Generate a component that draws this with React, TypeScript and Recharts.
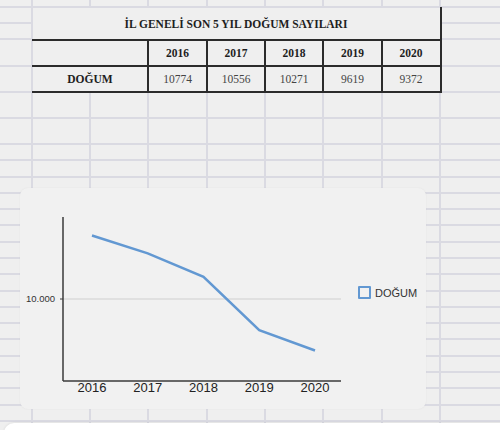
import React from 'react';
import { LineChart, Line, XAxis, YAxis, CartesianGrid, Legend } from 'recharts';

const years = ['2016', '2017', '2018', '2019', '2020'];
const births = [10774, 10556, 10271, 9619, 9372];
const yTicks = [10000];
const yDomain = [9000, 11000];
const seriesName = 'DOĞUM';
const tableTitle = 'İL GENELİ SON 5 YIL DOĞUM SAYILARI';

const data = years.map((year, i) => ({ year, value: births[i] }));

// spreadsheet grid
const colLines = [32, 90, 148, 207, 265, 323, 382, 440];
const rowLines = [7, 23, 39, 66, 92, 118, 144, 160, 177, 193, 209, 225, 242, 258, 274, 291, 307, 323, 339, 356, 372, 388, 405, 421];
const gridColor = '#dadae2';
const pageBg = '#efefef';
const ink = '#2b2b2b';
const lineColor = '#6298d2';

// table geometry
const tableCols = [32, 148, 207, 265, 323, 382, 440];
const serif = '"Liberation Serif", "Times New Roman", serif';
const sans = '"Liberation Sans", Arial, Helvetica, sans-serif';

const fmt = (v: number) => String(v).replace(/\B(?=(\d{3})+(?!\d))/g, '.');

function Cell({ x1, x2, y1, y2, text, bold }: { x1: number; x2: number; y1: number; y2: number; text: string; bold?: boolean }) {
  return (
    <div
      style={{
        position: 'absolute',
        left: x1,
        top: y1,
        width: x2 - x1,
        height: y2 - y1,
        display: 'flex',
        alignItems: 'center',
        justifyContent: 'center',
        fontFamily: serif,
        fontSize: 11.5,
        fontWeight: bold ? 700 : 400,
        color: bold ? '#1e1e1e' : '#444',
      }}
    >
      {text}
    </div>
  );
}

function LegendBox() {
  return (
    <div style={{ display: 'flex', alignItems: 'center', fontFamily: sans, fontSize: 11, color: '#333' }}>
      <span style={{ width: 9, height: 9, border: `2px solid ${lineColor}`, borderRadius: 1, marginRight: 4 }} />
      <span>{seriesName}</span>
    </div>
  );
}

export default function App() {
  return (
    <div style={{ position: 'absolute', left: 0, top: 0, width: 500, height: 430, overflow: 'hidden', background: pageBg }}>
      {colLines.map((x) => (
        <div key={'c' + x} style={{ position: 'absolute', left: x - 1, top: 0, width: 2, height: 430, background: gridColor }} />
      ))}
      {rowLines.map((y) => (
        <div key={'r' + y} style={{ position: 'absolute', left: 0, top: y - 1, width: 500, height: 2, background: gridColor }} />
      ))}

      {/* table */}
      <div style={{ position: 'absolute', left: 33, top: 8, width: 407, height: 84, background: pageBg }} />
      <Cell x1={32} x2={440} y1={8} y2={40} text={tableTitle} bold />
      <Cell x1={32} x2={148} y1={66} y2={92} text={seriesName} bold />
      {years.map((y, i) => (
        <Cell key={y} x1={tableCols[i + 1]} x2={tableCols[i + 2]} y1={40} y2={66} text={y} bold />
      ))}
      {births.map((v, i) => (
        <Cell key={i} x1={tableCols[i + 1]} x2={tableCols[i + 2]} y1={66} y2={92} text={String(v)} />
      ))}
      {[39.5, 65.5, 91.5].map((y) => (
        <div key={'h' + y} style={{ position: 'absolute', left: 32, top: y - 1, width: 410, height: 2, background: ink }} />
      ))}
      {tableCols.slice(1, -1).map((x) => (
        <div key={'v' + x} style={{ position: 'absolute', left: x - 1, top: 40, width: 2, height: 52, background: ink }} />
      ))}
      <div style={{ position: 'absolute', left: 440, top: 7, width: 2, height: 86, background: ink }} />

      {/* chart card */}
      <div
        style={{
          position: 'absolute',
          left: 20,
          top: 188,
          width: 406,
          height: 221,
          borderRadius: 8,
          background: '#f1f1f1',
          boxShadow: '0 0 2px rgba(0,0,0,0.06)',
        }}
      />
      <div style={{ position: 'absolute', left: 0, top: 0 }}>
        <LineChart width={500} height={430} data={data} margin={{ top: 217, right: 159, bottom: 19, left: 13 }}>
          <CartesianGrid vertical={false} stroke="#cfcfcf" strokeWidth={1} horizontalValues={yTicks} />
          <XAxis
            dataKey="year"
            height={30}
            padding={{ left: 29, right: 26 }}
            axisLine={{ stroke: '#3a3a3a', strokeWidth: 1.5 }}
            tickLine={false}
            tickSize={0}
            tickMargin={2}
            tick={{ fill: '#222', fontSize: 13, fontFamily: sans }}
          />
          <YAxis
            width={50}
            domain={yDomain}
            ticks={yTicks}
            tickFormatter={fmt}
            axisLine={{ stroke: '#3a3a3a', strokeWidth: 1.5 }}
            tickLine={{ stroke: '#3a3a3a' }}
            tickSize={3}
            tickMargin={5}
            tick={{ fill: '#333', fontSize: 9.5, fontFamily: sans }}
          />
          <Legend
            layout="horizontal"
            verticalAlign="middle"
            align="center"
            wrapperStyle={{ left: 358, top: 286, width: 90 }}
            content={() => <LegendBox />}
          />
          <Line
            type="linear"
            dataKey="value"
            name={seriesName}
            stroke={lineColor}
            strokeWidth={2.5}
            dot={false}
            activeDot={false}
            isAnimationActive={false}
          />
        </LineChart>
      </div>

      {/* panel at bottom */}
      <div style={{ position: 'absolute', left: 4, top: 423, width: 520, height: 30, borderRadius: 10, background: '#ffffff', boxShadow: '0 0 3px rgba(0,0,0,0.1)' }} />
    </div>
  );
}
